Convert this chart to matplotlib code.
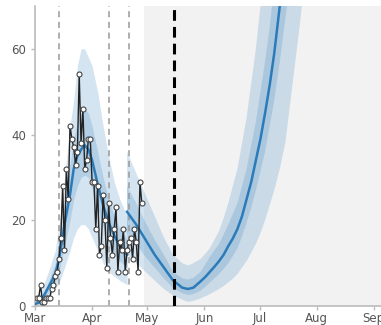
import matplotlib
matplotlib.use('Agg')
import matplotlib.pyplot as plt
import matplotlib.dates as mdates
import pandas as pd

# daily observed counts, starting Mar 2
obs_start = '2020-03-02'
obs = [2, 2, 5, 1, 1, 2, 2, 2, 4, 5, 7, 8, 11,
       16, 28, 13, 32, 25, 42, 39, 37, 33,
       36, 54, 38, 46, 32, 34, 39, 39, 29, 29,
       18, 28, 12, 14, 26, 20, 9, 24, 16, 12,
       18, 23, 8, 15, 13, 18, 8, 13, 15, 16,
       11, 18, 15, 8, 29, 24]

# model fit, first part (days since Mar 1)
fit1_day = [0, 3, 8, 11, 13, 14, 16, 19, 21, 23, 25, 27, 29, 31, 34, 37, 40, 43, 46, 50]
fit1_med = [0.5, 1, 5, 7.5, 11, 13.5, 19, 26, 32, 35, 36.5, 37.5, 36.5, 34, 28.5, 23.5, 19.5, 16.5, 14, 12]
fit1_olo = [0, 0.3, 2.5, 4, 5.5, 6.5, 9, 13, 16, 18, 19, 19, 18, 16, 13, 10, 8, 7, 6, 5]
fit1_ohi = [2, 3, 9, 13, 19, 22, 30, 42, 48, 56, 60, 60, 58, 56, 50, 42, 35, 29, 25, 21]
fit1_ilo = [0.2, 0.6, 3.5, 5.5, 8, 10, 14, 20, 25, 28, 30, 30.5, 30, 27.5, 23, 18.5, 15, 12.5, 10.5, 9]
fit1_ihi = [1, 1.8, 6.5, 10, 14, 17, 24, 33, 39, 43, 45, 46, 45, 42, 36, 30, 25, 21, 18, 15.5]

# model projection, second part (days since Mar 1)
fit2_day = [50, 55, 60, 65, 70, 75, 80, 83, 86, 90, 92.5, 95, 97.5, 100, 102.5, 105, 107.5,
            110, 112.5, 115, 117.5, 120, 122.5, 125, 127.5, 130, 133, 136, 140, 144, 148]
fit2_med = [22, 19, 15.5, 12, 9, 6, 4.3, 4, 4.3, 5.8, 6.8, 8, 9.2, 10.5, 12, 14, 15.8,
            18, 21, 25, 29, 34, 39, 45, 51.5, 59, 70, 82, 100, 125, 155]
fit2_olo = [12, 10, 8, 6, 4, 2.5, 1.5, 1, 1.2, 1.8, 2.3, 2.8, 3.4, 4, 4.7, 5.5, 6.4,
            7.5, 9, 10.5, 12.5, 14.5, 17, 20, 23.5, 27, 32, 38, 52, 66, 82]
fit2_ohi = [36, 31, 26, 21, 16, 12, 10, 9.5, 10, 11, 12.2, 13.5, 15.5, 17.5, 20.5, 24, 28,
            32, 38, 44, 52, 60, 70, 80, 92, 105, 125, 150, 190, 230, 280]
fit2_ilo = [17, 14.5, 11.5, 9, 6.5, 4.2, 3, 2.6, 2.8, 3.6, 4.5, 5.5, 6.5, 7.5, 8.7, 10, 11.7,
            13.5, 16.3, 19.5, 23, 27, 31.5, 36, 42, 48, 57, 67, 80, 100, 125]
fit2_ihi = [28, 24, 19.5, 15.5, 12, 8, 6.5, 6.2, 6.6, 8, 9.7, 11.5, 13, 14.5, 16.7, 19, 21.5,
            24, 28, 32, 37.5, 43, 50, 57, 65, 75, 88, 103, 130, 160, 195]

change_points = ['2020-03-14', '2020-04-10', '2020-04-21']
forecast_start = '2020-04-29'
today = '2020-05-15 12:00'

base = pd.Timestamp('2020-03-01')
blue = '#2b7bba'

fig = plt.figure(figsize=(3.81, 3.25), dpi=100)
ax = fig.add_axes([0.092, 0.058, 0.908, 0.924])

ax.axvspan(pd.Timestamp(forecast_start), pd.Timestamp('2020-09-10'), color='#f2f2f2', lw=0, zorder=0)

for days, med, olo, ohi, ilo, ihi in [(fit1_day, fit1_med, fit1_olo, fit1_ohi, fit1_ilo, fit1_ihi),
                                      (fit2_day, fit2_med, fit2_olo, fit2_ohi, fit2_ilo, fit2_ihi)]:
    t = [base + pd.Timedelta(days=d) for d in days]
    ax.fill_between(t, olo, ohi, color=blue, alpha=0.2, lw=0, zorder=1)
    ax.fill_between(t, ilo, ihi, color=blue, alpha=0.2, lw=0, zorder=1)
    ax.plot(t, med, color=blue, lw=1.8, zorder=3)

for cp in change_points:
    ax.axvline(pd.Timestamp(cp), color='#999999', lw=1.1, ls=(0, (4, 3)), zorder=2)
ax.axvline(pd.Timestamp(today), color='black', lw=2.2, ls=(0, (3.5, 2)), zorder=4)

obs_t = pd.date_range(obs_start, periods=len(obs), freq='D')
ax.plot(obs_t, obs, color='#222222', lw=1.0, marker='o', ms=3.6,
        mfc='white', mec='#444444', mew=0.8, zorder=5)

ax.set_xlim(base, pd.Timestamp('2020-09-05'))
ax.set_ylim(0, 70)
ax.set_yticks([0, 20, 40, 60])
ax.xaxis.set_major_locator(mdates.MonthLocator())
ax.xaxis.set_major_formatter(mdates.DateFormatter('%b'))

for s in ['top', 'right']:
    ax.spines[s].set_visible(False)
for s in ['left', 'bottom']:
    ax.spines[s].set_color('#bbbbbb')
    ax.spines[s].set_linewidth(1.2)
ax.tick_params(colors='#bbbbbb', labelcolor='#555555', labelsize=8.5, length=3, width=1)
ax.tick_params(axis='x', pad=1)

fig.savefig('out.png', dpi=100)
